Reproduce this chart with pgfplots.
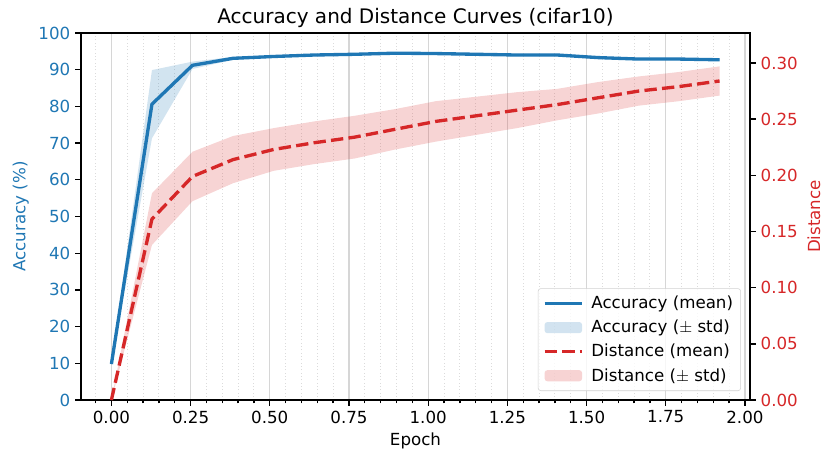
\documentclass[border=0pt]{standalone}
\usepackage{fontspec}
\setmainfont{DejaVu Sans}
\usepackage{pgfplots}
\pgfplotsset{compat=1.18}
\usepackage{pgfplotstable}
\usepgfplotslibrary{fillbetween}

\definecolor{tabblue}{HTML}{1F77B4}
\definecolor{tabred}{HTML}{D62728}

% epoch, accuracy mean/std, distance mean/std
\pgfplotstableread{
ep    am    as   dm    ds
0.000  9.8  0.3  0.000 0.000
0.128 80.6  9.3  0.161 0.023
0.256 91.2  1.0  0.199 0.022
0.384 93.1  0.4  0.214 0.021
0.512 93.6  0.3  0.223 0.019
0.640 94.0  0.3  0.229 0.019
0.768 94.2  0.3  0.234 0.019
0.896 94.5  0.3  0.241 0.018
1.024 94.4  0.3  0.248 0.018
1.152 94.2  0.3  0.253 0.017
1.280 94.0  0.3  0.258 0.016
1.408 94.0  0.3  0.263 0.014
1.536 93.3  0.3  0.269 0.014
1.664 92.9  0.3  0.275 0.013
1.792 92.9  0.3  0.279 0.013
1.920 92.7  0.3  0.284 0.013
}\runs

\pgfplotsset{
  common/.style={
    width=481.68pt, height=264.24pt, scale only axis,
    xmin=-0.096, xmax=2.016,
    tick align=outside,
    major tick length=4.2pt, minor tick length=2.4pt,
    every tick/.style={black, line width=0.96pt},
    axis line style={line width=0.96pt},
    ticklabel style={font=\fontsize{12}{14}\selectfont},
    label style={font=\fontsize{12}{14}\selectfont},
    /pgf/number format/assume math mode=true,
  },
}

\begin{document}
\begin{tikzpicture}
\begin{axis}[
  common,
  ymin=0, ymax=100,
  xtick={0,0.25,...,2},
  minor xtick={-0.05,0.05,0.10,0.15,0.20,0.30,0.35,0.40,0.45,0.55,0.60,0.65,0.70,
    0.80,0.85,0.90,0.95,1.05,1.10,1.15,1.20,1.30,1.35,1.40,1.45,1.55,1.60,1.65,1.70,
    1.80,1.85,1.90,1.95},
  ytick={0,10,...,100},
  xtick pos=bottom, ytick pos=left,
  xticklabel style={/pgf/number format/.cd, fixed, fixed zerofill, precision=2},
  yticklabel style={text=tabblue},
  xmajorgrids, xminorgrids,
  major grid style={black!16, line width=0.96pt},
  minor grid style={black!14, dotted, line width=0.7pt},
  xlabel={Epoch},
  ylabel={Accuracy (\%)},
  ylabel style={text=tabblue},
  title={Accuracy and Distance Curves (cifar10)},
  title style={font=\fontsize{14.4}{16}\selectfont, yshift=-5.6pt},
]
  \addplot[name path=au, draw=none] table[x=ep, y expr=\thisrow{am}+\thisrow{as}] {\runs};
  \addplot[name path=al, draw=none] table[x=ep, y expr=\thisrow{am}-\thisrow{as}] {\runs};
  \addplot[fill=tabblue, fill opacity=0.2, draw=none] fill between[of=au and al];
  \addplot[tabblue, line width=2.4pt] table[x=ep, y=am] {\runs};
\end{axis}

\begin{axis}[
  common,
  ymin=0, ymax=0.3267,
  axis x line=none, axis y line*=right,
  ytick={0,0.05,...,0.3},
  yticklabel style={text=tabred, /pgf/number format/.cd, fixed, fixed zerofill, precision=2},
  ylabel={Distance},
  ylabel style={text=tabred},
  legend cell align=left,
  legend style={
    at={(0.9865,0.0245)}, anchor=south east,
    draw=black!18, rounded corners=2pt,
    fill=white, fill opacity=0.8, text opacity=1,
    font=\fontsize{12}{14}\selectfont,
    row sep=2.7pt, inner sep=3.5pt,
    /tikz/every odd column/.append style={column sep=3.5pt},
  },
]
  \addplot[name path=du, draw=none, forget plot] table[x=ep, y expr=\thisrow{dm}+\thisrow{ds}] {\runs};
  \addplot[name path=dl, draw=none, forget plot] table[x=ep, y expr=\thisrow{dm}-\thisrow{ds}] {\runs};
  \addplot[fill=tabred, fill opacity=0.2, draw=none, forget plot] fill between[of=du and dl];
  \addplot[tabred, line width=2.4pt, dash pattern=on 8.9pt off 3.8pt, forget plot] table[x=ep, y=dm] {\runs};

  \addlegendimage{legend image code/.code={\draw[tabblue, line width=2.4pt] (0pt,0pt) -- (27pt,0pt);}}
  \addlegendentry{Accuracy (mean)}
  \addlegendimage{draw=none, legend image code/.code={\path[draw=none, fill=tabblue, fill opacity=0.2] (0pt,-4pt) rectangle (27pt,4pt);}}
  \addlegendentry{Accuracy ($\pm$ std)}
  \addlegendimage{legend image code/.code={\draw[tabred, line width=2.4pt, dash pattern=on 8.9pt off 3.8pt] (0pt,0pt) -- (27pt,0pt);}}
  \addlegendentry{Distance (mean)}
  \addlegendimage{draw=none, legend image code/.code={\path[draw=none, fill=tabred, fill opacity=0.2] (0pt,-4pt) rectangle (27pt,4pt);}}
  \addlegendentry{Distance ($\pm$ std)}
\end{axis}
\pgfresetboundingbox
\useasboundingbox (-58.32pt,-39.6pt) rectangle (533.52pt,288pt);
\end{tikzpicture}
\end{document}
